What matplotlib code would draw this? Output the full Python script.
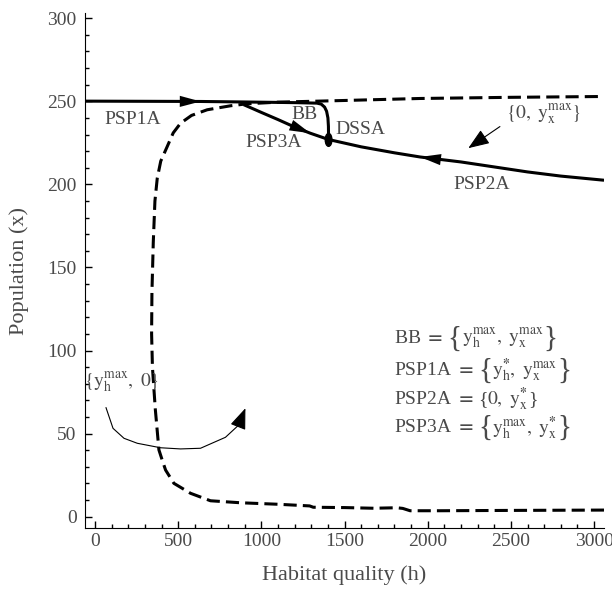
import numpy as np
import matplotlib
matplotlib.use("Agg")
import matplotlib.pyplot as plt
from matplotlib.patches import Ellipse

plt.rcParams['font.family'] = ['Liberation Serif', 'DejaVu Serif']
plt.rcParams['mathtext.fontset'] = 'stix'

TXT = '#4a4a4a'

# dashed boundary curve (h, x)
dash_h = [3060, 2500, 2074, 1894, 1850, 1814, 1674, 1500, 1312, 1290, 1100, 874, 694, 574,
          474, 424, 404, 384, 362, 345, 340, 342, 350, 360, 374, 395, 434, 470, 514, 580,
          674, 814, 914, 1100, 1500, 1954, 2500, 3060]
dash_x = [4.0, 3.8, 3.6, 3.6, 5.0, 5.4, 5.1, 5.5, 5.7, 6.5, 7.5, 8.4, 9.6, 14.1,
          20.1, 28.1, 34.0, 40.2, 65, 90, 110, 135, 165, 190, 203.7, 214, 222.8, 231, 236.8, 241.5,
          244.9, 247.3, 248.5, 249.5, 250.5, 251.7, 252.4, 252.9]

# PSP1A path bending into BB and down to DSSA
psp1_h = [-60, 300, 635, 900, 1200, 1334, 1360, 1380, 1392, 1400, 1403, 1404]
psp1_x = [250.1, 250.0, 249.9, 249.6, 249.2, 248.9, 248.3, 246.5, 244.0, 240.0, 235.0, 227.0]

# PSP3A / PSP2A path
psp3_h = [893, 950, 1000, 1100, 1200, 1294, 1404, 1600, 1800, 1954, 2200, 2400, 2600, 2800, 3060]
psp3_x = [248.0, 245.5, 243.3, 239.0, 234.5, 230.8, 227.0, 222.6, 219.0, 216.5, 213.5, 210.5, 207.5, 205.0, 202.5]

# DSSA point
dssa = (1404, 226.8)

# direction arrows on the curves: (tail, tip)
curve_arrows = [((400, 250.0), (635, 249.9)),
                ((1150, 236.8), (1294, 230.8)),
                ((2150, 214.0), (1954, 216.5))]

# thin curved arrow near bottom
curl_h = [66, 108, 174, 254, 394, 514, 634, 784, 864]
curl_x = [65.6, 53.2, 47.2, 44.2, 41.5, 40.8, 41.2, 47.8, 55.2]
curl_tip = (904, 65.3)

# arrow pointing at the top dashed curve label
lbl_arrow = ((2434, 234.8), (2244, 221.8))

labels = [("PSP1A", 229, 239.0), ("BB", 1258, 241.8), ("DSSA", 1594, 232.8),
          ("PSP3A", 1075, 225.0), ("PSP2A", 2324, 199.7)]

# legend rows
legend_names = ["BB", "PSP1A", "PSP2A", "PSP3A"]
legend_sets = [
    r"$\mathrm{y}_{\mathrm{h}}^{\mathrm{max}},\ \mathrm{y}_{\mathrm{x}}^{\mathrm{max}}$",
    r"$\mathrm{y}_{\mathrm{h}}^{\mathbf{*}},\ \mathrm{y}_{\mathrm{x}}^{\mathrm{max}}$",
    r"$0,\ \mathrm{y}_{\mathrm{x}}^{\mathbf{*}}$",
    r"$\mathrm{y}_{\mathrm{h}}^{\mathrm{max}},\ \mathrm{y}_{\mathrm{x}}^{\mathbf{*}}$",
]
legend_big = [True, True, False, True]
legend_y = [107, 88, 70.5, 53.5]

fig = plt.figure(figsize=(6.12, 5.91), dpi=100)
ax = fig.add_axes([0.139, 0.106, 0.848, 0.8716])

ax.plot(dash_h, dash_x, color='k', lw=2.2, linestyle=(0, (4.3, 2.0)))
ax.plot(psp1_h, psp1_x, color='k', lw=2.2, solid_capstyle='butt')
ax.plot(psp3_h, psp3_x, color='k', lw=2.2, solid_capstyle='butt')
ax.add_patch(Ellipse(dssa, width=40, height=7.8, color='k'))

for tail, tip in curve_arrows:
    ax.annotate("", xy=tip, xytext=tail,
                arrowprops=dict(arrowstyle="-|>,head_length=1.5,head_width=0.4",
                                mutation_scale=10, color='k', lw=0.01,
                                shrinkA=0, shrinkB=0))

ax.plot(curl_h, curl_x, color='k', lw=0.8)
ax.annotate("", xy=curl_tip, xytext=(curl_h[-1], curl_x[-1]),
            arrowprops=dict(arrowstyle="-|>,head_length=1.3,head_width=0.5",
                            mutation_scale=10, color='k', lw=0.8,
                            shrinkA=0, shrinkB=0))
ax.annotate("", xy=lbl_arrow[1], xytext=lbl_arrow[0],
            arrowprops=dict(arrowstyle="-|>,head_length=1.3,head_width=0.5",
                            mutation_scale=10, color='k', lw=0.8,
                            shrinkA=0, shrinkB=0))

for s, hx, py in labels:
    ax.text(hx, py, s, fontsize=14, color=TXT, ha='center', va='center')

ax.text(2697, 241.8, r"$\{0,\ \mathrm{y}_{\mathrm{x}}^{\mathrm{max}}\}$", fontsize=14,
        color=TXT, ha='center', va='center')
ax.text(160, 80.3, r"$\{\mathrm{y}_{\mathrm{h}}^{\mathrm{max}},\ 0\}$", fontsize=14,
        color=TXT, ha='center', va='center')

# legend block: pieces chained one after another
for name, body, big, py in zip(legend_names, legend_sets, legend_big, legend_y):
    t = ax.text(1800, py, name + r" $\mathbf{=}$ ", fontsize=14, color=TXT,
                ha='left', va='center')
    bsize = 21 if big else 14
    t = ax.annotate("{", xy=(1, 0.5), xycoords=t, fontsize=bsize, color=TXT,
                    ha='left', va='center')
    t = ax.annotate(body, xy=(1, 0.5), xycoords=t, fontsize=14, color=TXT,
                    ha='left', va='center')
    ax.annotate("}", xy=(1, 0.5), xycoords=t, fontsize=bsize, color=TXT,
                ha='left', va='center')

ax.set_xlim(-60, 3060)
ax.set_ylim(-7, 303)
ax.set_xticks(np.arange(0, 3001, 500))
ax.set_yticks(np.arange(0, 301, 50))
ax.set_xticks(np.arange(0, 3001, 100), minor=True)
ax.set_yticks(np.arange(0, 301, 10), minor=True)
ax.tick_params(which='both', direction='in', labelsize=14, labelcolor=TXT, width=1)
ax.tick_params(which='major', length=5)
ax.tick_params(which='minor', length=3)
ax.tick_params(axis='y', which='major', pad=6)
ax.spines['top'].set_visible(False)
ax.spines['right'].set_visible(False)
ax.set_xlabel("Habitat quality (h)", fontsize=16, color=TXT, labelpad=11)
ax.set_ylabel("Population (x)", fontsize=16, color=TXT, labelpad=13)

fig.savefig("out.png", dpi=100)
